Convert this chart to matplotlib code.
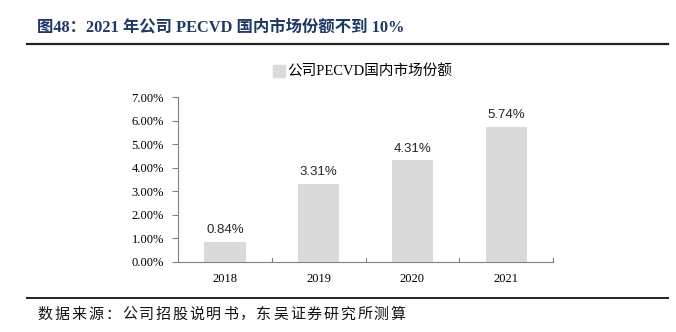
import matplotlib
matplotlib.use("Agg")
import matplotlib.pyplot as plt
from matplotlib.lines import Line2D

# Data
years = ["2018", "2019", "2020", "2021"]
share = [0.84, 3.31, 4.31, 5.74]
value_labels = ["0.84%", "3.31%", "4.31%", "5.74%"]
y_ticks = [0, 1, 2, 3, 4, 5, 6, 7]
title = "图48：2021 年公司 PECVD 国内市场份额不到 10%"
source = "数据来源：公司招股说明书，东吴证券研究所测算"

serif_cjk = ["Liberation Serif", "Noto Sans CJK SC"]
bar_color = "#DADADA"
axis_color = "#808080"

fig = plt.figure(figsize=(6.76, 3.32), dpi=100)
ax = fig.add_axes([178 / 676, 70 / 332, 375 / 676, 165 / 332])

x = list(range(len(years)))
ax.bar(x, share, width=0.44, color=bar_color, zorder=2)
for xi, v, lab in zip(x, share, value_labels):
    ax.text(xi, v + 0.25, lab, ha="center", va="bottom", fontsize=9.5,
            family="Liberation Sans", color="#262626")

ax.set_xlim(-0.5, 3.5)
ax.set_ylim(0, 7)
ax.set_yticks(y_ticks)
ax.set_yticklabels([f"{t:.2f}%" for t in y_ticks], family="Liberation Serif", fontsize=9)
ax.set_xticks(x)
ax.set_xticklabels(years, family="Liberation Serif", fontsize=9)
ax.tick_params(axis="x", length=0, pad=8)
ax.tick_params(axis="y", length=4, color=axis_color, pad=6)
# boundary ticks between categories, pointing up
for b in [0.5, 1.5, 2.5, 3.5]:
    ax.plot([b, b], [0, 0.18], color=axis_color, lw=0.8, clip_on=False, zorder=3)

for s in ["top", "right"]:
    ax.spines[s].set_visible(False)
for s in ["left", "bottom"]:
    ax.spines[s].set_color(axis_color)
    ax.spines[s].set_linewidth(0.8)

# Legend
handle = Line2D([], [], marker="s", linestyle="none", markersize=8,
                markerfacecolor=bar_color, markeredgecolor=bar_color)
fig.legend([handle], ["公司PECVD国内市场份额"], loc="center",
           bbox_to_anchor=(362 / 676, 1 - 72 / 332), frameon=False,
           prop={"family": serif_cjk, "size": 10.5}, handletextpad=0.1,
           handlelength=1.0)

# Title and rules
fig.text(37 / 676, 1 - 28 / 332, title,
         ha="left", va="center", fontsize=11.8, fontweight="bold",
         family=serif_cjk, color="#1F3864")
fig.add_artist(Line2D([27 / 676, 668 / 676], [1 - 44 / 332] * 2, color="#222222", lw=1.6))
fig.add_artist(Line2D([27 / 676, 668 / 676], [1 - 298 / 332] * 2, color="#222222", lw=1.4))

# source line, spaced characters
pitch = 16.8
for i, ch in enumerate(source):
    fig.text((37 + pitch * i + pitch / 2) / 676, 1 - 315 / 332, ch,
             ha="center", va="center", fontsize=10.8, family=serif_cjk, color="#111111")

fig.savefig("out.png", dpi=100)
